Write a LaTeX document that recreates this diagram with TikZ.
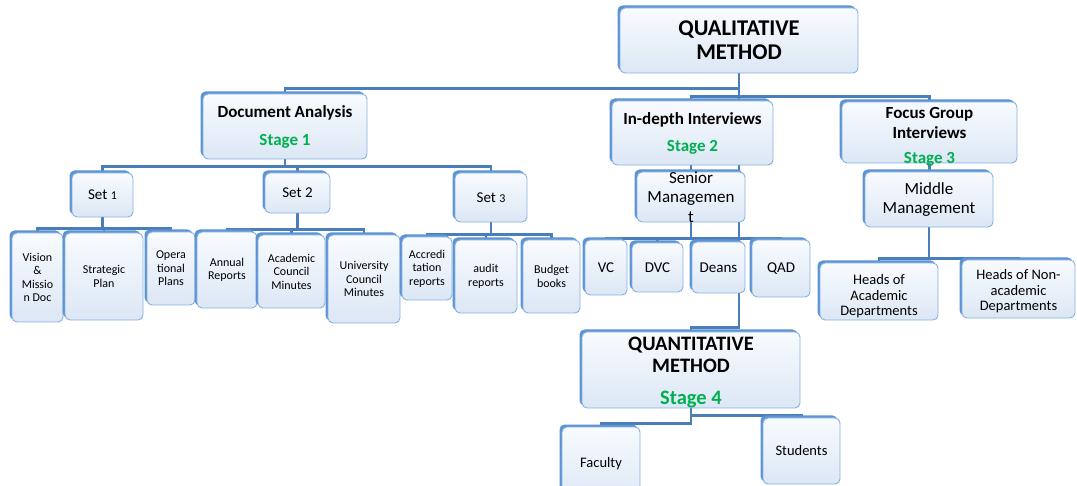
\documentclass[tikz,border=0pt]{standalone}
\usepackage{fontspec}
\setmainfont{Carlito}
\usetikzlibrary{shadows,backgrounds}
\definecolor{boxblue}{HTML}{5B93D3}
\definecolor{boxedge}{HTML}{86B0E0}
\definecolor{boxtop}{HTML}{F8FBFE}
\definecolor{boxbot}{HTML}{DCE7F5}
\definecolor{linkblue}{HTML}{4A7EBB}
\definecolor{stagegreen}{HTML}{00B050}
\newcommand{\setfs}[2]{\fontsize{#1}{#2}\selectfont}

\begin{document}
\begin{tikzpicture}[x=1pt,y=-1pt,
  box/.style={rectangle, rounded corners=5pt, draw=boxedge, line width=0.9pt,
    top color=boxtop, bottom color=boxbot, inner sep=0pt, align=center,
    drop shadow={shadow xshift=-2.5pt, shadow yshift=2.5pt, fill=boxblue, opacity=1}},
  titletext/.style={font=\bfseries\setfs{22.5}{24}},
  quanttext/.style={font=\bfseries\setfs{20.5}{22}},
  headtext/.style={font=\bfseries\setfs{17}{20}},
  roletext/.style={font=\setfs{17}{19.5}},
  settext/.style={font=\setfs{15}{17}},
  posttext/.style={font=\setfs{15}{17}},
  unittext/.style={font=\setfs{14.5}{15.5}},
  leaftext/.style={font=\setfs{12}{13.5}},
  link/.style={draw=linkblue, line width=2.2pt}]

\useasboundingbox (0,0) rectangle (1077,486);

% top level
\node[box, titletext, minimum width=238pt, minimum height=65pt] (qual) at (739,40.5) {QUALITATIVE\\METHOD};

% stages
\node[box, headtext, minimum width=164pt, minimum height=65pt] (doc) at (285,126.5)
  {Document Analysis\\[8pt]{\color{stagegreen}Stage 1}};
\node[box, headtext, minimum width=161pt, minimum height=64pt] (ind) at (692.5,133)
  {In-depth Interviews\\[7pt]{\color{stagegreen}Stage 2}};
\node[box, minimum width=175pt, minimum height=61pt,
  label={[headtext, align=center, yshift=-4pt]center:Focus Group\\Interviews\\[5pt]{\color{stagegreen}Stage 3}}]
  (focus) at (929.5,132.5) {};

% document sets
\node[box, settext, minimum width=61pt, minimum height=44pt] (set1) at (102.5,195) {Set {\setfs{12}{12}1}};
\node[box, settext, minimum width=65pt, minimum height=40pt] (set2) at (297.5,193) {Set 2};
\node[box, settext, minimum width=72pt, minimum height=49pt] (set3) at (491,197.5) {Set {\setfs{12}{12}3}};

% documents
\node[box, leaftext, minimum width=51pt, minimum height=89pt] (vis) at (37.5,277.5) {Vision\\\&\\Missio\\n Doc};
\node[box, leaftext, minimum width=78pt, minimum height=87pt] (strat) at (104,276.5) {Strategic\\Plan};
\node[box, leaftext, minimum width=48pt, minimum height=73pt] (oper) at (171,268.5) {Opera\\tional\\Plans};
\node[box, leaftext, minimum width=60pt, minimum height=76pt] (annual) at (227,270) {Annual\\Reports};
\node[box, leaftext, minimum width=67pt, minimum height=73pt] (acad) at (291.5,271.5) {Academic\\Council\\Minutes};
\node[box, leaftext, minimum width=72pt, minimum height=88pt] (univ) at (364,279) {University\\Council\\Minutes};
\node[box, leaftext, minimum width=50pt, minimum height=63pt] (accr) at (427,268.5) {Accredi\\tation\\reports};
\node[box, leaftext, minimum width=62pt, minimum height=73pt] (audit) at (486,276.5) {audit\\reports};
\node[box, leaftext, minimum width=57pt, minimum height=73pt] (budget) at (551.5,276.5) {Budget\\books};

% interview groups
\node[box, minimum width=108pt, minimum height=50pt,
  label={[roletext, align=center]center:Senior\\Managemen\\t}] (sen) at (691,197) {};
\node[box, roletext, minimum width=128pt, minimum height=55pt] (midm) at (929,199.5) {Middle\\Management};

\node[box, posttext, minimum width=42pt, minimum height=55pt] (vc) at (606,267.5) {VC};
\node[box, posttext, minimum width=51pt, minimum height=49pt] (dvc) at (657.5,267.5) {DVC};
\node[box, posttext, minimum width=53pt, minimum height=51pt] (deans) at (718.5,267.5) {Deans};
\node[box, posttext, minimum width=58pt, minimum height=57pt] (qad) at (781,268.5) {QAD};

\node[box, minimum width=118pt, minimum height=57pt,
  label={[unittext, align=center, yshift=-5pt]center:Heads of\\Academic\\Departments}] (hacad) at (879,291.5) {};
\node[box, minimum width=113pt, minimum height=58pt,
  label={[unittext, align=center, yshift=-2.5pt]center:Heads of Non-\\academic\\Departments}] (hnon) at (1018.5,289) {};

% quantitative stage
\node[box, minimum width=218pt, minimum height=76pt,
  label={[quanttext, align=center, yshift=-3pt]center:QUANTITATIVE\\METHOD\\[10pt]{\color{stagegreen}Stage 4}}]
  (quant) at (691,370) {};
\node[box, unittext, minimum width=78pt, minimum height=73pt] (fac) at (601,463.5) {Faculty};
\node[box, unittext, minimum width=77pt, minimum height=66pt] (stud) at (801.5,451) {Students};

% junctions of the branch bars
\coordinate (dbar) at ([yshift=-7pt]doc.south);
\coordinate (s1bar) at ([yshift=-11pt]set1.south);
\coordinate (s2bar) at ([yshift=-16pt]set2.south);
\coordinate (s3bar) at ([yshift=-12pt]set3.south);
\coordinate (sbar) at ([yshift=-16pt]sen.south);
\coordinate (mbar) at ([yshift=-31pt]midm.south);

\begin{pgfonlayer}{background}
  % qualitative method to its three stages
  \draw[link] (doc.north) -- ([yshift=5pt]doc.north) -| (qual.south);
  \draw[link] (focus.north) -- ([yshift=5pt]focus.north) -| (sen.south) -- (sbar);
  % straight down to the quantitative stage
  \draw[link] (qual.south) |- ([yshift=4pt]quant.north) -- (quant.north);
  % document analysis
  \draw[link] (doc.south) -- (dbar);
  \draw[link] (set1.north) |- (dbar) -| (set3.north);
  \draw[link] (set2.north) -- (set2.north |- dbar);
  \draw[link] (set1.south) -- (s1bar);
  \draw[link] (vis.north) |- (s1bar) -| (oper.north);
  \draw[link] (strat.north) -- (strat.north |- s1bar);
  \draw[link] (set2.south) -- (s2bar);
  \draw[link] (annual.north) |- (s2bar) -| (univ.north);
  \draw[link] (acad.north) -- (acad.north |- s2bar);
  \draw[link] (set3.south) -- (s3bar);
  \draw[link] (accr.north) |- (s3bar) -| (budget.north);
  \draw[link] (audit.north) -- (audit.north |- s3bar);
  % senior management
  \draw[link] (vc.north) |- (sbar) -| (qad.north);
  \draw[link] (dvc.north) -- (dvc.north |- sbar);
  \draw[link] (deans.north) -- (deans.north |- sbar);
  % focus groups
  \draw[link] (focus.south) -- (focus.south |- midm.north);
  \draw[link] (midm.south) -- (mbar);
  \draw[link] (hacad.north) |- (mbar) -| (hnon.north);
  % survey groups
  \draw[link] (quant.south) -- ++(0,15) -| (fac.north);
  \draw[link] (quant.south) -- ++(0,7) -| (stud.north);
\end{pgfonlayer}
\end{tikzpicture}
\end{document}
